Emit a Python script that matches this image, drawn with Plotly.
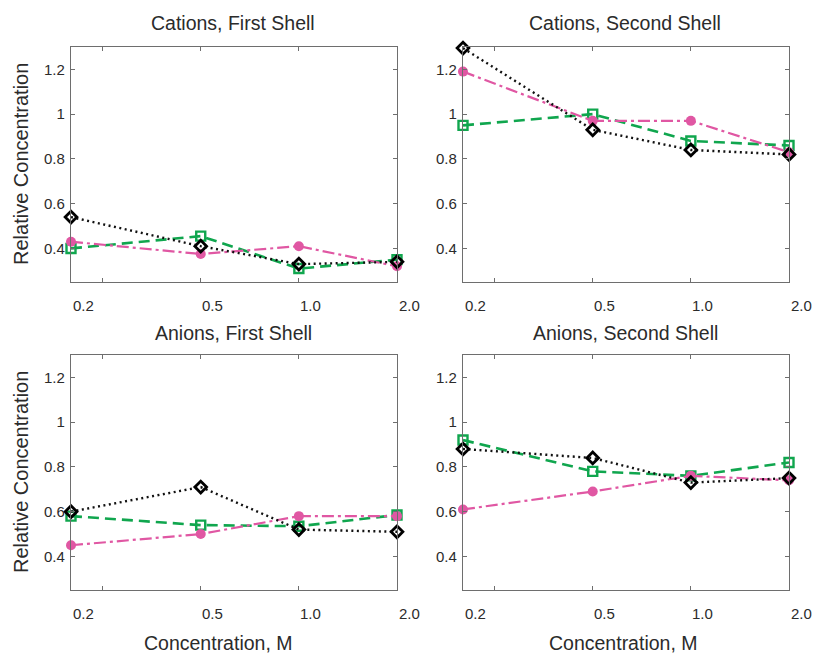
import plotly.graph_objects as go
import math

# Salt concentration (M) on a log axis
conc = [0.2, 0.5, 1.0, 2.0]
conc_labels = ["0.2", "0.5", "1.0", "2.0"]

panel_titles = ["Cations, First Shell", "Cations, Second Shell",
                "Anions, First Shell", "Anions, Second Shell"]

# Relative concentrations per panel: diamonds (dotted), squares (dashed), circles (dash-dot)
cat1_diamond = [0.54, 0.41, 0.33, 0.34]
cat1_square = [0.40, 0.455, 0.31, 0.35]
cat1_circle = [0.43, 0.375, 0.41, 0.32]

cat2_diamond = [1.295, 0.93, 0.84, 0.82]
cat2_square = [0.95, 1.00, 0.88, 0.86]
cat2_circle = [1.19, 0.97, 0.97, 0.83]

an1_diamond = [0.60, 0.71, 0.52, 0.51]
an1_square = [0.58, 0.54, 0.535, 0.585]
an1_circle = [0.45, 0.50, 0.58, 0.58]

an2_diamond = [0.88, 0.84, 0.73, 0.75]
an2_square = [0.92, 0.78, 0.76, 0.82]
an2_circle = [0.61, 0.69, 0.76, 0.74]

y_ticks = [0.4, 0.6, 0.8, 1.0, 1.2]
y_ticktext = ["0.4", "0.6", "0.8", "1", "1.2"]

panels = [
    (cat1_diamond, cat1_square, cat1_circle),
    (cat2_diamond, cat2_square, cat2_circle),
    (an1_diamond, an1_square, an1_circle),
    (an2_diamond, an2_square, an2_circle),
]

W, H = 816, 654
FONT = "Liberation Sans, Arial, Helvetica, sans-serif"
TXT = "#2b2b2b"
FRAME = "#6e6e6e"
GREEN = "#10a64e"
PINK = "#e057a3"

# pixel boxes of the four axes: (left, right, top, bottom)
boxes = [(71, 397, 47, 282), (463, 789, 47, 282),
         (71, 397, 355, 590), (463, 789, 355, 590)]

fig = go.Figure()
for i, (dia, sq, cir) in enumerate(panels):
    xa = "x" if i == 0 else f"x{i+1}"
    ya = "y" if i == 0 else f"y{i+1}"
    common = dict(x=conc, xaxis=xa, yaxis=ya, mode="lines+markers",
                  showlegend=False, cliponaxis=False)
    fig.add_trace(go.Scatter(y=sq, name="squares",
                             line=dict(color=GREEN, width=2.6, dash="11px,6px"),
                             marker=dict(symbol="square-open", size=9, color=GREEN,
                                         line=dict(width=2.4, color=GREEN)), **common))
    fig.add_trace(go.Scatter(y=cir, name="circles",
                             line=dict(color=PINK, width=2.2, dash="12px,4px,3px,4px"),
                             marker=dict(symbol="circle", size=10, color=PINK), **common))
    fig.add_trace(go.Scatter(y=dia, name="diamonds",
                             line=dict(color="#111111", width=2.4, dash="2px,3.5px"),
                             marker=dict(symbol="diamond-open", size=9, color="#000000",
                                         line=dict(width=2.8, color="#000000")), **common))

layout = dict(
    width=W, height=H, margin=dict(l=0, r=0, t=0, b=0),
    paper_bgcolor="white", plot_bgcolor="white",
    font=dict(family=FONT, color=TXT),
    annotations=[],
)

for i, (l, r, t, b) in enumerate(boxes):
    sfx = "" if i == 0 else str(i + 1)
    layout[f"xaxis{sfx}"] = dict(
        domain=[l / W, r / W], anchor=f"y{sfx}", type="log",
        range=[math.log10(conc[0]), math.log10(conc[-1])],
        tickmode="array", tickvals=[0.25] + conc[1:], showticklabels=False,
        ticks="inside", ticklen=4, tickcolor=FRAME, tickwidth=1,
        showline=True, linecolor=FRAME, linewidth=1.2, mirror="ticks",
        showgrid=False, zeroline=False, fixedrange=True,
    )
    layout[f"yaxis{sfx}"] = dict(
        domain=[1 - b / H, 1 - t / H], anchor=f"x{sfx}",
        range=[0.25, 1.3], tickmode="array", tickvals=y_ticks, ticktext=y_ticktext,
        ticks="inside", ticklen=4, tickcolor=FRAME, tickwidth=1,
        ticklabelstandoff=2,
        tickfont=dict(size=15, color=TXT, family=FONT),
        showline=True, linecolor=FRAME, linewidth=1.2, mirror="ticks",
        showgrid=False, zeroline=False, fixedrange=True,
    )
    # concentration labels, set just right of each data position
    xref = "x" if i == 0 else f"x{i+1}"
    for c, lab in zip(conc, conc_labels):
        layout["annotations"].append(dict(
            text=lab, xref=xref, yref="paper", x=math.log10(c),
            y=1 - (b + 23) / H, xanchor="center", yanchor="middle", xshift=12,
            showarrow=False, font=dict(size=15, color=TXT, family=FONT)))
    cx = (l + r) / 2
    title_y = 23 if i < 2 else 333
    layout["annotations"].append(dict(
        text=panel_titles[i], xref="paper", yref="paper",
        x=(cx - 1) / W, y=1 - title_y / H, xanchor="center", yanchor="middle",
        showarrow=False, font=dict(size=19.5, color=TXT, family=FONT)))

# axis titles
for yc in (164, 472):
    layout["annotations"].append(dict(
        text="Relative Concentration", xref="paper", yref="paper",
        x=21 / W, y=1 - yc / H, xanchor="center", yanchor="middle",
        textangle=-90, showarrow=False, font=dict(size=20, color=TXT, family=FONT)))
for xc in (218, 623):
    layout["annotations"].append(dict(
        text="Concentration, M", xref="paper", yref="paper",
        x=xc / W, y=1 - 643 / H, xanchor="center", yanchor="middle",
        showarrow=False, font=dict(size=19.5, color=TXT, family=FONT)))

fig.update_layout(**layout)
fig.write_html("out.html")
